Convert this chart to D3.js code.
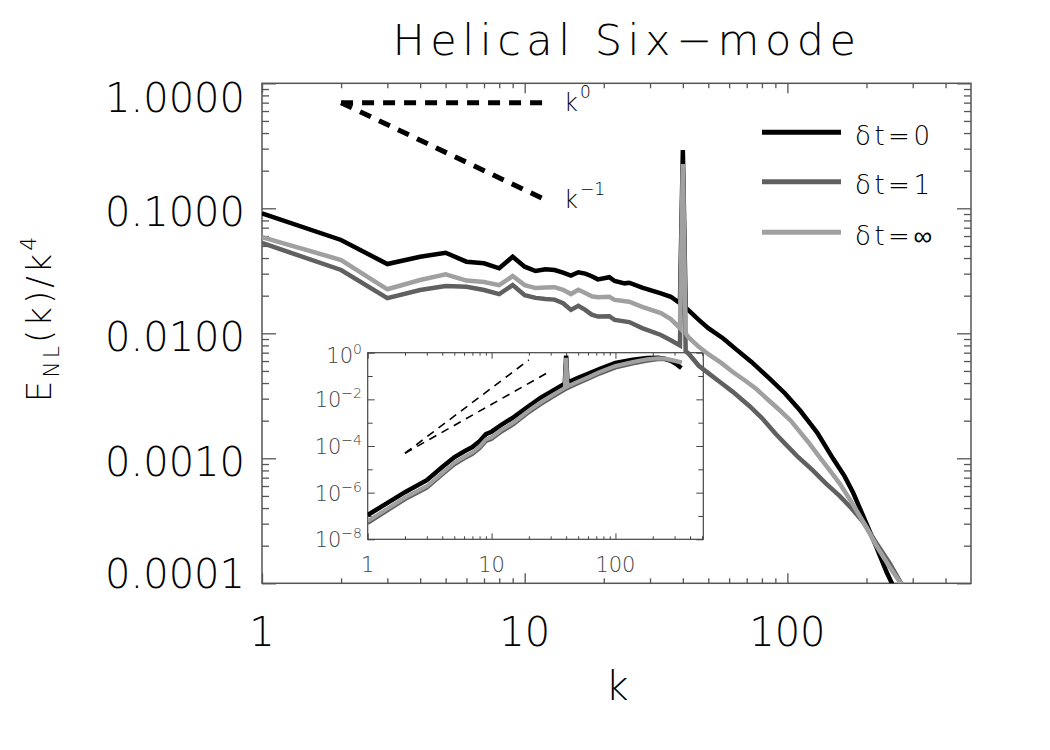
<!DOCTYPE html>
<html><head><meta charset="utf-8">
<script src="https://cdn.jsdelivr.net/npm/d3@7"></script>
<style>body{margin:0;background:#fff}svg{display:block}</style>
</head><body>
<svg id="c" width="1050" height="750"></svg>
<script>
// ---------- data ----------
const titleText = "Helical Six\u2212mode";
const xMajorTicks = [1, 10, 100];
const xTickLabels = ["1", "10", "100"];
const yMajorTicks = [1e-4, 1e-3, 1e-2, 1e-1, 1];
const yTickLabels = ["0.0001", "0.0010", "0.0100", "0.1000", "1.0000"];
const seriesNames = ["\u03b4t=0", "\u03b4t=1", "\u03b4t=\u221e"];
const seriesColors = ["#000000", "#606060", "#a0a0a0"];

const kBlack = [1,2,3,4,5,6,7,8,9,10,11,12,13,14,15,16,17,18,19,21,22,24,25,28,33,36,39,40,41,42,46,50,57,64,73,84,98,112,122,130,149,165,178,200,218,239,250,262];
const eBlack = [0.0912,0.0558,0.0358,0.0410,0.0441,0.0374,0.0363,0.0331,0.0410,0.0341,0.0315,0.0325,0.0321,0.0306,0.0290,0.0308,0.0300,0.0286,0.0270,0.0281,0.0262,0.0251,0.0254,0.0232,0.0209,0.0196,0.0174,0.293,0.0160,0.0153,0.0128,0.0110,0.0091,0.0074,0.0059,0.0045,0.0033,0.0024,0.0019,0.0016,0.00100,0.00072,0.00053,0.00030,0.000196,0.000122,0.0001,0.00007];

const kDark = [1,2,3,4,5,6,7,8,9,10,11,12,13,14,15,16,17,18,19,21,22,25,28,33,36,39,40,41,42,46,50,56,62,72,80,90,99,110,125,140,158,175,194,218,245,271,285];
const eDark = [0.0528,0.0321,0.0191,0.0222,0.0239,0.0236,0.0222,0.0206,0.0243,0.0202,0.0192,0.0188,0.0186,0.0174,0.0154,0.0166,0.0154,0.0141,0.0136,0.0137,0.0128,0.0123,0.0110,0.0097,0.0088,0.0080,0.20,0.0072,0.0069,0.0055,0.0048,0.0040,0.0034,0.0026,0.0021,0.00158,0.00128,0.00102,0.00080,0.00063,0.00050,0.00040,0.00031,0.00021,0.000145,0.0001,0.00008];

const kLight = [1,2,3,4,5,6,7,8,9,10,11,12,13,14,15,16,17,18,19,21,22,25,28,33,36,39,40,41,42,46,50,56,62,70,76,85,94,103,111,120,130,145,158,175,188,200,218,245,270,285];
const eLight = [0.0589,0.0386,0.0225,0.0267,0.0296,0.0264,0.0257,0.0243,0.0287,0.0243,0.0230,0.0233,0.0234,0.0223,0.0206,0.0223,0.0210,0.0198,0.0194,0.0196,0.0185,0.0179,0.0163,0.0145,0.0130,0.0110,0.226,0.0100,0.0093,0.0078,0.0068,0.0058,0.0049,0.0041,0.0036,0.0029,0.0024,0.0020,0.00165,0.00135,0.00108,0.00080,0.00063,0.00045,0.00035,0.00028,0.00020,0.000135,0.0001,0.00008];

// guide lines in main panel
const kGuide = [2, 12];
const guideK0 = [0.7, 0.7];
const guideKm1 = [0.7, 0.117];

// inset
const kInset = [1,2,3,4,5,6,7,8,9,10,12,15,20,25,30,39,40,41,50,60,75,100,138,180,220,250,280,310,330,341];
const insetBlack = [1.1e-7,1.05e-6,3.4e-6,1.25e-5,3.3e-5,5.8e-5,9e-5,1.6e-4,3.2e-4,4.1e-4,8e-4,1.7e-3,5.2e-3,0.0118,0.021,0.047,0.75,0.052,0.083,0.123,0.205,0.36,0.50,0.59,0.60,0.55,0.45,0.33,0.25,0.22];
const insetDark = [5e-8,5.2e-7,1.6e-6,6e-6,1.6e-5,2.9e-5,4.5e-5,8e-5,1.6e-4,2.0e-4,4.1e-4,8.5e-4,2.8e-3,6.3e-3,0.0115,0.026,0.55,0.030,0.049,0.075,0.128,0.23,0.34,0.45,0.52,0.52,0.47,0.42,0.39,0.37];
const insetLight = [6e-8,6.2e-7,1.9e-6,7e-6,1.9e-5,3.4e-5,5.3e-5,9.5e-5,1.9e-4,2.4e-4,4.9e-4,1.0e-3,3.3e-3,7.5e-3,0.0135,0.031,0.6,0.036,0.058,0.088,0.15,0.27,0.40,0.52,0.58,0.56,0.50,0.44,0.40,0.38];
const kInsetGuide = [2, 20];
const insetGuide4 = [4.9e-5, 0.49];
const kInsetGuide3 = [2, 30];
const insetGuide3 = [4.9e-5, 0.165];
const insetXMajor = [1, 10, 100];
const insetXLabels = ["1", "10", "100"];
const insetYMajor = [1e-8, 1e-6, 1e-4, 1e-2, 1];
const insetYExp = ["\u22128", "\u22126", "\u22124", "\u22122", "0"];

// ---------- drawing ----------
const FONT = "'DejaVu Sans', sans-serif";
const svg = d3.select("#c");
const L = 262, R = 971, T = 83.3, B = 583.3;
const x = d3.scaleLog().domain([1, 500]).range([L, R]);
const y = d3.scaleLog().domain([1e-4, 1]).range([B, T]);

const minorOf = (lo, hi) => { const a = []; for (let d = lo; d < hi; d++) for (let m = 2; m <= 9; m++) a.push(m * Math.pow(10, d)); return a; };
const xMinor = minorOf(0, 3).filter(v => v < 500);
const yMinor = minorOf(-4, 0);

function tickAxis(axisFn, scale, vals, size, tx, ty, color, width) {
  const g = svg.append("g").attr("transform", `translate(${tx},${ty})`)
    .call(axisFn(scale).tickValues(vals).tickSize(size).tickSizeOuter(0).tickFormat(""));
  g.select(".domain").remove();
  g.selectAll("line").attr("stroke", color).attr("stroke-width", width);
}
const AX = "#555";
tickAxis(d3.axisBottom, x, xMajorTicks, -10, 0, B, AX, 1.3);
tickAxis(d3.axisBottom, x, xMinor, -5, 0, B, AX, 1.3);
tickAxis(d3.axisTop, x, xMajorTicks, -10, 0, T, AX, 1.3);
tickAxis(d3.axisTop, x, xMinor, -5, 0, T, AX, 1.3);
tickAxis(d3.axisLeft, y, yMajorTicks, -14, L, 0, AX, 1.3);
tickAxis(d3.axisLeft, y, yMinor, -7, L, 0, AX, 1.3);
tickAxis(d3.axisRight, y, yMajorTicks, -14, R, 0, AX, 1.3);
tickAxis(d3.axisRight, y, yMinor, -7, R, 0, AX, 1.3);
svg.append("rect").attr("x", L).attr("y", T).attr("width", R - L).attr("height", B - T)
  .attr("fill", "none").attr("stroke", AX).attr("stroke-width", 1.5);

// tick labels
svg.append("g").selectAll("text").data(xMajorTicks).join("text")
  .attr("x", d => x(d)).attr("y", 646).attr("text-anchor", "middle")
  .attr("font-family", FONT).attr("font-weight", 200).attr("font-size", 40).attr("fill", "#000")
  .text((d, i) => xTickLabels[i]);
svg.append("g").selectAll("text").data(yMajorTicks).join("text")
  .attr("x", 245).attr("y", d => Math.min(Math.max(y(d) + 3, 97.5), 573) + 14.5)
  .attr("text-anchor", "end")
  .attr("font-family", FONT).attr("font-weight", 200).attr("font-size", 40).attr("fill", "#000")
  .text((d, i) => yTickLabels[i]);

// title and axis titles
svg.append("text").attr("x", 627).attr("y", 55).attr("text-anchor", "middle")
  .attr("font-family", FONT).attr("font-weight", 200).attr("font-size", 43).attr("letter-spacing", 5.5).attr("fill", "#000")
  .text(titleText);
svg.append("text").attr("x", 617).attr("y", 700).attr("text-anchor", "middle")
  .attr("font-family", FONT).attr("font-weight", 200).attr("font-size", 40).attr("fill", "#000").text("k");
const yt = svg.append("text").attr("transform", "translate(51,318) rotate(-90)").attr("text-anchor", "middle")
  .attr("font-family", FONT).attr("font-weight", 200).attr("font-size", 34).attr("letter-spacing", 3).attr("fill", "#000");
yt.append("tspan").text("E");
yt.append("tspan").attr("font-size", 22).attr("dy", 8).text("NL");
yt.append("tspan").attr("dy", -8).text("(k)/k");
yt.append("tspan").attr("font-size", 22).attr("dy", -15).text("4");

// ---------- inset ----------
const IL = 367.7, IR = 703.3, IT = 352.7, IB = 539.3;
const xi = d3.scaleLog().domain([1, 512]).range([IL, IR]);
const yi = d3.scaleLog().domain([1e-8, 1]).range([IB, IT]);
svg.append("rect").attr("x", IL).attr("y", IT).attr("width", IR - IL).attr("height", IB - IT).attr("fill", "#fff");
const ixMinor = minorOf(0, 3).filter(v => v < 512);
const iyMinor = [1e-7, 1e-5, 1e-3, 1e-1];
const IAX = "#444";
tickAxis(d3.axisBottom, xi, insetXMajor, -6, 0, IB, IAX, 1);
tickAxis(d3.axisBottom, xi, ixMinor, -3, 0, IB, IAX, 1);
tickAxis(d3.axisTop, xi, insetXMajor, -6, 0, IT, IAX, 1);
tickAxis(d3.axisTop, xi, ixMinor, -3, 0, IT, IAX, 1);
tickAxis(d3.axisLeft, yi, insetYMajor, -7, IL, 0, IAX, 1);
tickAxis(d3.axisLeft, yi, iyMinor, -5, IL, 0, IAX, 1);
tickAxis(d3.axisRight, yi, insetYMajor, -7, IR, 0, IAX, 1);
tickAxis(d3.axisRight, yi, iyMinor, -5, IR, 0, IAX, 1);
svg.append("rect").attr("x", IL).attr("y", IT).attr("width", IR - IL).attr("height", IB - IT)
  .attr("fill", "none").attr("stroke", IAX).attr("stroke-width", 1.2);
svg.append("g").selectAll("text").data(insetXMajor).join("text")
  .attr("x", d => xi(d)).attr("y", 572).attr("text-anchor", "middle")
  .attr("font-family", FONT).attr("font-weight", 200).attr("font-size", 21).attr("fill", "#444")
  .text((d, i) => insetXLabels[i]);
const iyl = svg.append("g").selectAll("text").data(insetYMajor).join("text")
  .attr("x", 362).attr("y", d => Math.max(yi(d) + 8, IT + 10)).attr("text-anchor", "end")
  .attr("font-family", FONT).attr("font-weight", 200).attr("font-size", 21).attr("fill", "#444");
iyl.append("tspan").text("10");
iyl.append("tspan").attr("font-size", 14).attr("dy", -9).text((d, i) => insetYExp[i]);

svg.append("clipPath").attr("id", "clipI").append("rect")
  .attr("x", IL).attr("y", IT).attr("width", IR - IL).attr("height", IB - IT);
const lineI = d3.line().x(d => xi(d[0])).y(d => yi(d[1]));
const gi = svg.append("g").attr("clip-path", "url(#clipI)");
[[kInsetGuide, insetGuide4], [kInsetGuide3, insetGuide3]].forEach(([ks, vs]) => {
  gi.append("path").datum(ks.map((k, i) => [k, vs[i]])).attr("d", lineI)
    .attr("fill", "none").attr("stroke", "#000").attr("stroke-width", 1.6).attr("stroke-dasharray", "8,6");
});
[[insetBlack, seriesColors[0], 4.5], [insetDark, seriesColors[1], 4], [insetLight, seriesColors[2], 4]].forEach(([vs, c, w]) => {
  gi.append("path").datum(kInset.map((k, i) => [k, vs[i]])).attr("d", lineI)
    .attr("fill", "none").attr("stroke", c).attr("stroke-width", w).attr("stroke-linejoin", "miter");
});

// ---------- main curves ----------
svg.append("clipPath").attr("id", "clipM").append("rect")
  .attr("x", L).attr("y", T).attr("width", R - L).attr("height", B - T);
const line = d3.line().x(d => x(d[0])).y(d => y(d[1]));
const gm = svg.append("g").attr("clip-path", "url(#clipM)");
[[kBlack, eBlack, seriesColors[0]], [kDark, eDark, seriesColors[1]], [kLight, eLight, seriesColors[2]]].forEach(([ks, vs, c]) => {
  gm.append("path").datum(ks.map((k, i) => [k, vs[i]])).attr("d", line)
    .attr("fill", "none").attr("stroke", c).attr("stroke-width", 4.5).attr("stroke-linejoin", "miter").attr("stroke-miterlimit", 10);
});
[guideK0, guideKm1].forEach(vs => {
  gm.append("path").datum(kGuide.map((k, i) => [k, vs[i]])).attr("d", line)
    .attr("fill", "none").attr("stroke", "#000").attr("stroke-width", 5).attr("stroke-dasharray", "12,9");
});
// guide labels
const g0 = svg.append("text").attr("x", 564).attr("y", 111).attr("font-family", FONT).attr("font-weight", 200).attr("font-size", 24).attr("fill", "#000");
g0.append("tspan").text("k");
g0.append("tspan").attr("font-size", 17).attr("dy", -13).attr("dx", 2).text("0");
const g1 = svg.append("text").attr("x", 564).attr("y", 208).attr("font-family", FONT).attr("font-weight", 200).attr("font-size", 24).attr("fill", "#000");
g1.append("tspan").text("k");
g1.append("tspan").attr("font-size", 17).attr("dy", -13).attr("dx", 2).text("\u22121");

// legend
const legY = [132.3, 181.7, 232.3];
seriesNames.forEach((n, i) => {
  svg.append("line").attr("x1", 762).attr("x2", 841).attr("y1", legY[i]).attr("y2", legY[i])
    .attr("stroke", seriesColors[i]).attr("stroke-width", 5);
  svg.append("text").attr("x", 855).attr("y", legY[i] + 12.5)
    .attr("font-family", FONT).attr("font-weight", 200).attr("font-size", 26).attr("letter-spacing", 3.5).attr("fill", "#000")
    .text(n);
});
</script>
</body></html>
